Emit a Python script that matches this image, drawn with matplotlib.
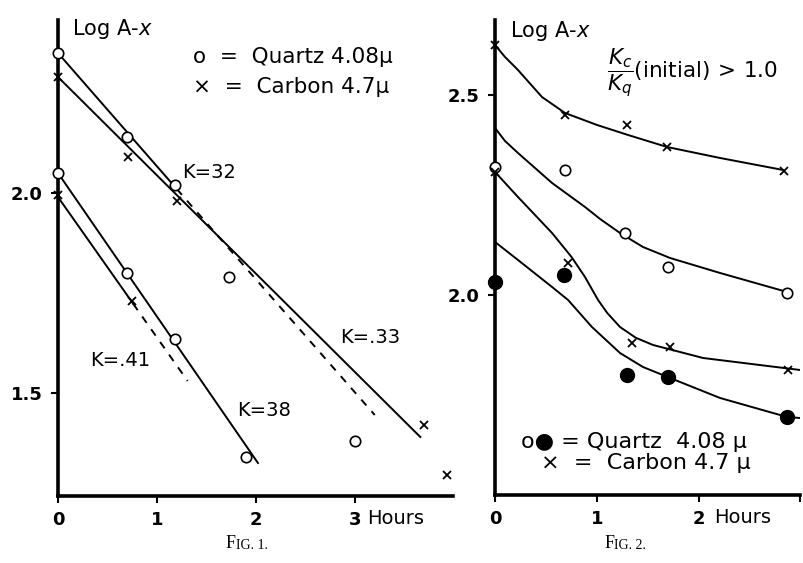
import matplotlib
matplotlib.use('Agg')
import matplotlib.pyplot as plt
import numpy as np

plt.rcParams['font.family'] = ['DejaVu Sans']
plt.rcParams['mathtext.fontset'] = 'dejavusans'

# ---------------- Fig. 1 data (hours, log(A-x)) ----------------
q1_hours = [0, 0.70, 1.18, 1.73, 3.0]
q1_logs = [2.35, 2.14, 2.02, 1.79, 1.38]
c1_hours = [0, 0.71, 1.20, 3.70, 3.93]
c1_logs = [2.29, 2.09, 1.98, 1.42, 1.295]
q2_hours = [0, 0.70, 1.18, 1.90]
q2_logs = [2.05, 1.80, 1.635, 1.34]
c2_hours = [0, 0.75]
c2_logs = [1.995, 1.73]

# fitted lines: solid part then dashed part
q1_fit_x = [0, 1.2, 3.2]
q1_fit_y = [2.35, 2.01, 1.445]
c1_fit_x = [0, 3.66]
c1_fit_y = [2.29, 1.39]
q2_fit_x = [0, 2.02]
q2_fit_y = [2.05, 1.325]
c2_fit_x = [0, 0.76, 1.31]
c2_fit_y = [1.99, 1.723, 1.53]

# ---------------- Fig. 2 data ----------------
c3_hours = [0, 0.686, 1.294, 1.686, 2.833]
c3_logs = [2.625, 2.45, 2.425, 2.37, 2.31]
c3_curve_x = [0, 0.098, 0.225, 0.46, 0.686, 1.0, 1.304, 1.686, 2.206, 2.824]
c3_curve_y = [2.625, 2.595, 2.5625, 2.495, 2.455, 2.425, 2.4, 2.37, 2.3425, 2.3125]

q3_hours = [0, 0.686, 1.275, 1.696, 2.863]
q3_logs = [2.32, 2.3125, 2.155, 2.07, 2.005]
q3_curve_x = [0, 0.098, 0.225, 0.559, 0.882, 1.03, 1.225, 1.45, 1.716, 2.206, 2.863]
q3_curve_y = [2.4175, 2.385, 2.355, 2.28, 2.22, 2.19, 2.155, 2.12, 2.0925, 2.055, 2.0075]

c4_hours = [0, 0.716, 1.343, 1.716, 2.873]
c4_logs = [2.3075, 2.08, 1.88, 1.87, 1.8125]
c4_curve_x = [0, 0.225, 0.559, 0.75, 0.882, 1.01, 1.1, 1.225, 1.38, 1.549, 2.039, 2.99]
c4_curve_y = [2.3075, 2.245, 2.155, 2.095, 2.045, 1.9875, 1.955, 1.92, 1.893, 1.875, 1.8425, 1.8125]

q4_hours = [0, 0.676, 1.294, 1.696, 2.863]
q4_logs = [2.0325, 2.05, 1.80, 1.795, 1.695]
q4_curve_x = [0, 0.225, 0.559, 0.716, 0.95, 1.225, 1.45, 1.716, 2.206, 2.863, 2.99]
q4_curve_y = [2.1325, 2.0875, 2.02, 1.9875, 1.92, 1.855, 1.82, 1.7925, 1.7425, 1.695, 1.6925]


def style_axes(ax):
    for s in ['top', 'right']:
        ax.spines[s].set_visible(False)
    for s in ['left', 'bottom']:
        ax.spines[s].set_linewidth(2.6)
    ax.tick_params(direction='out', length=5, width=1.5, labelsize=13, pad=6)
    for lab in ax.get_xticklabels() + ax.get_yticklabels():
        lab.set_fontweight('bold')


fig = plt.figure(figsize=(8.04, 5.63), dpi=100)

lw = 1.4
oc = dict(marker='o', ms=7.5, mfc='white', mec='black', mew=1.2, ls='none', clip_on=False, zorder=5)
xm = dict(marker='x', ms=6, mec='black', mew=1.3, ls='none', clip_on=False, zorder=5)
fc = dict(marker='o', ms=10, mfc='black', mec='black', ls='none', clip_on=False, zorder=5)

# ---------------- Fig. 1 ----------------
ax1 = fig.add_axes([0.0721, 0.119, 0.4913, 0.8455])
ax1.plot(q1_fit_x[:2], q1_fit_y[:2], color='black', lw=lw)
ax1.plot(q1_fit_x[1:], q1_fit_y[1:], color='black', lw=lw, ls=(0, (4, 4)))
ax1.plot(c1_fit_x, c1_fit_y, color='black', lw=lw)
ax1.plot(q2_fit_x, q2_fit_y, color='black', lw=lw)
ax1.plot(c2_fit_x[:2], c2_fit_y[:2], color='black', lw=lw)
ax1.plot(c2_fit_x[1:], c2_fit_y[1:], color='black', lw=lw, ls=(0, (4, 4)))

ax1.plot(q1_hours, q1_logs, **oc)
ax1.plot(q2_hours, q2_logs, **oc)
ax1.plot(c1_hours, c1_logs, **xm)
ax1.plot(c2_hours, c2_logs, **xm)

ax1.set_xlim(0, 3.99)
ax1.set_ylim(1.2425, 2.4325)
ax1.set_xticks([0, 1, 2, 3])
ax1.set_xticklabels(['0', '1', '2', '3'])
ax1.set_yticks([1.5, 2.0])
ax1.set_yticklabels(['1.5', '2.0'])
style_axes(ax1)
ax1.text(3.12, -0.048, 'Hours', transform=ax1.get_xaxis_transform(),
         ha='left', va='center', fontsize=14)

ax1.text(0.14, 2.41, 'Log A-$x$', fontsize=15, va='center')
ax1.text(1.36, 2.34, 'o  =  Quartz 4.08μ', fontsize=15.5, va='center')
ax1.text(1.36, 2.265, '×  =  Carbon 4.7μ', fontsize=15.5, va='center')
ax1.text(1.25, 2.05, 'K=32', fontsize=14, va='center')
ax1.text(2.85, 1.6375, 'K=.33', fontsize=14, va='center')
ax1.text(0.32, 1.58, 'K=.41', fontsize=14, va='center')
ax1.text(1.81, 1.4575, 'K=38', fontsize=14, va='center')

# ---------------- Fig. 2 ----------------
ax2 = fig.add_axes([0.6157, 0.1208, 0.3794, 0.8437])
ax2.plot(c3_curve_x, c3_curve_y, color='black', lw=lw)
ax2.plot(q3_curve_x, q3_curve_y, color='black', lw=lw)
ax2.plot(c4_curve_x, c4_curve_y, color='black', lw=lw)
ax2.plot(q4_curve_x, q4_curve_y, color='black', lw=lw)

ax2.plot(c3_hours, c3_logs, **xm)
ax2.plot(q3_hours, q3_logs, **oc)
ax2.plot(c4_hours, c4_logs, **xm)
ax2.plot(q4_hours, q4_logs, **fc)

ax2.set_xlim(0, 2.99)
ax2.set_ylim(1.5, 2.6875)
ax2.set_xticks([0, 1, 2, 2.99])
ax2.set_xticklabels(['0', '1', '2', ''])
ax2.set_yticks([2.0, 2.5])
ax2.set_yticklabels(['2.0', '2.5'])
style_axes(ax2)
ax2.text(2.15, -0.048, 'Hours', transform=ax2.get_xaxis_transform(),
         ha='left', va='center', fontsize=14)

ax2.text(0.15, 2.66, 'Log A-$x$', fontsize=15, va='center')
ax2.text(1.1, 2.555, r'$\dfrac{K_c}{K_q}$(initial)$\,>\,$1.0', fontsize=15.5, va='center')
ax2.text(0.25, 1.632, 'o● = Quartz  4.08 μ', fontsize=16, va='center')
ax2.text(0.45, 1.58, '×  =  Carbon 4.7 μ', fontsize=16, va='center')

# captions
fig.text(0.293, 0.02, 'F', family='Liberation Serif', fontsize=13, ha='right', va='bottom')
fig.text(0.293, 0.02, 'IG. 1.', family='Liberation Serif', fontsize=10, ha='left', va='bottom')
fig.text(0.764, 0.02, 'F', family='Liberation Serif', fontsize=13, ha='right', va='bottom')
fig.text(0.764, 0.02, 'IG. 2.', family='Liberation Serif', fontsize=10, ha='left', va='bottom')

fig.savefig('out.png', dpi=100)
